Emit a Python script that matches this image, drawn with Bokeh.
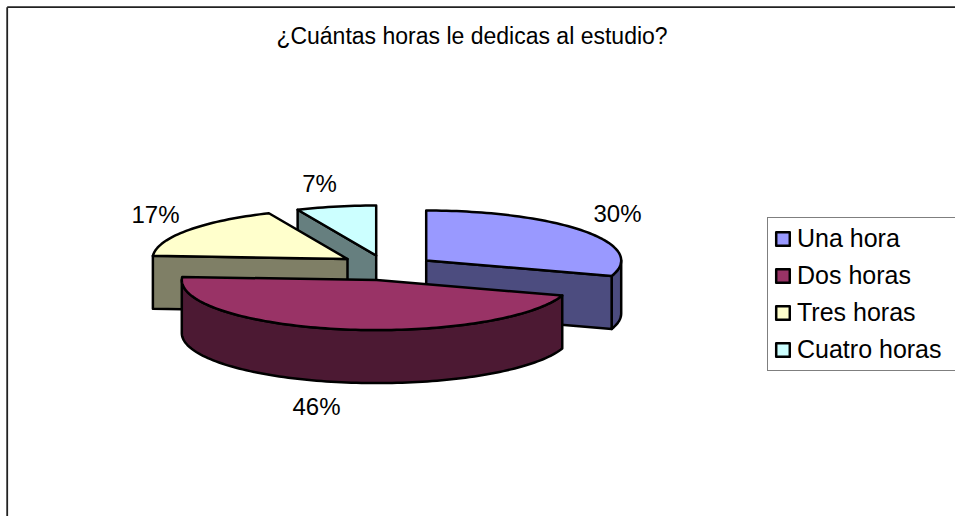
import math
from bokeh.plotting import figure
from bokeh.models import Range1d, Legend, LegendItem
from bokeh.core.properties import value
from bokeh.embed import file_html
from bokeh.resources import INLINE

title_text = "¿Cuántas horas le dedicas al estudio?"
categories = ["Una hora", "Dos horas", "Tres horas", "Cuatro horas"]
shares = [30.0, 46.0, 17.4, 6.6]
top_colors = ["#9999FF", "#993366", "#FFFFCC", "#CCFFFF"]
side_colors = ["#4C4C7F", "#4C1933", "#7F7F66", "#667F7F"]

# slice apex positions (pixels of the page), horizontal / vertical radius, depth
centers = [(425.7, 260.0), (376.3, 279.6), (347.0, 258.5), (375.7, 255.0)]
label_pos = [(617, 213), (316, 406), (155, 214), (319, 183)]
RX, RY, DEPTH = 195.0, 50.0, 53.0
FONT = value("Liberation Sans")
LW = 2.5

p = figure(width=955, height=516, output_backend="svg", toolbar_location=None,
           x_range=Range1d(0, 955), y_range=Range1d(516, 0), min_border=0,
           outline_line_color=None, background_fill_color="white")
p.xaxis.visible = False
p.yaxis.visible = False
p.grid.visible = False


def pt(c, a, dz=0.0):
    r = math.radians(a)
    return c[0] + RX * math.sin(r), c[1] - RY * math.cos(r) + dz


def arc(c, a0, a1, dz=0.0, step=1.5):
    n = max(2, int(abs(a1 - a0) / step))
    return [pt(c, a0 + (a1 - a0) * i / n, dz) for i in range(n + 1)]


def poly(pts, fill):
    return p.patch([q[0] for q in pts], [q[1] for q in pts], fill_color=fill,
                   line_color="black", line_width=LW, line_join="round")


bounds = []
acc = 0.0
for s in shares:
    bounds.append((acc * 3.6, (acc + s) * 3.6))
    acc += s

# frame (top and left edges only are in view)
p.line([6.7, 6.7], [516, 6.7], line_color="#222222", line_width=1.8)
p.line([6.7, 955], [6.7, 6.7], line_color="#222222", line_width=1.8)

top_renderers = {}

# Cuatro horas
i = 3
c = centers[i]; a0, a1 = bounds[i]
e = pt(c, a0)
poly([c, e, (e[0], e[1] + DEPTH), (c[0], c[1] + DEPTH)], side_colors[i])
top_renderers[i] = poly([c] + arc(c, a0, a1), top_colors[i])

# Tres horas
i = 2
c = centers[i]; a0, a1 = bounds[i]
e = pt(c, a0)
poly([c, e, (e[0], e[1] + DEPTH), (c[0], c[1] + DEPTH)], side_colors[i])
top_renderers[i] = poly([c] + arc(c, a0, a1), top_colors[i])

# Una hora
i = 0
c = centers[i]; a0, a1 = bounds[i]
e = pt(c, a1)
poly(arc(c, 90, a1) + arc(c, a1, 90, DEPTH), side_colors[i])
poly([c, e, (e[0], e[1] + DEPTH), (c[0], c[1] + DEPTH)], side_colors[i])
top_renderers[i] = poly([c] + arc(c, a0, a1), top_colors[i])

# Dos horas
i = 1
c = centers[i]; a0, a1 = bounds[i]
poly(arc(c, a0, 270) + arc(c, 270, a0, DEPTH), side_colors[i])
top_renderers[i] = poly([c] + arc(c, a0, a1), top_colors[i])

# data labels
for (x, y), s in zip(label_pos, shares):
    p.text([x], [y], text=[f"{round(s)}%"], text_font=FONT, text_font_size="24px",
           text_align="center", text_baseline="middle", text_color="black")

p.text([471.5], [35], text=[title_text], text_font=FONT, text_font_size="23px",
       text_align="center", text_baseline="middle", text_color="black")

legend = Legend(
    items=[LegendItem(label=n, renderers=[top_renderers[k]]) for k, n in enumerate(categories)],
    location=(767, 145), orientation="vertical",
    label_text_font="Liberation Sans", label_text_font_size="25px", label_text_color="black",
    glyph_width=17, glyph_height=17, label_standoff=6, spacing=8, padding=6, margin=0,
    border_line_color="black", border_line_width=1, background_fill_color="white",
    background_fill_alpha=1, label_height=27, label_width=172,
)
p.add_layout(legend, "center")

open("out.html", "w").write(file_html(p, INLINE))
